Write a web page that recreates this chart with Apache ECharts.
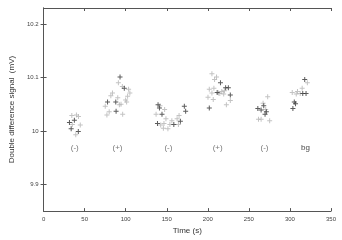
<!DOCTYPE html>
<html>
<head>
<meta charset="utf-8">
<script src="https://cdn.jsdelivr.net/npm/echarts@6/dist/echarts.min.js"></script>
<style>html,body{margin:0;padding:0;background:#fff}#c{width:342px;height:240px}</style>
</head>
<body>
<div id="c"></div>
<script>
// Dark markers
var darkTimes = [37.5, 31.5, 33.6, 42.3,
  93.1, 98.3, 87.9, 77.9, 88.3,
  139.4, 141.1, 171.4, 173.0, 144.2, 138.7, 166.6, 158.6,
  215.4, 221.7, 225.0, 211.4, 227.4, 201.8,
  268.1, 260.9, 264.9, 271.3, 269.7,
  318.0, 315.6, 319.6, 305.3, 306.8, 303.6];
var darkValues = [10.020, 10.016, 10.004, 9.999,
  10.101, 10.080, 10.054, 10.054, 10.037,
  10.049, 10.043, 10.046, 10.037, 10.031, 10.014, 10.018, 10.012,
  10.090, 10.081, 10.081, 10.072, 10.067, 10.043,
  10.047, 10.042, 10.039, 10.036, 10.031,
  10.096, 10.070, 10.070, 10.054, 10.051, 10.042];
// Light markers
var lightTimes = [34.4, 40.0, 35.0, 44.7, 39.2, 42.5,
  91.1, 95.9, 103.5, 105.1, 83.9, 81.9, 90.3, 102.3, 99.9, 75.1, 94.3, 101.1, 92.3, 79.9, 96.3, 77.1,
  141.8, 147.4, 137.0, 165.0, 162.6, 149.0, 156.2, 146.6, 153.8, 164.2, 145.9, 151.4, 142.6,
  205.0, 210.6, 208.2, 201.8, 207.4, 205.0, 214.6, 217.0, 220.2, 200.2, 206.6, 222.6, 227.4, 213.0, 219.3,
  272.9, 267.3, 270.5, 261.7, 264.9, 275.3,
  321.2, 314.9, 302.8, 309.2, 307.7, 312.5];
var lightValues = [10.029, 10.030, 10.012, 10.011, 9.993, 10.027,
  10.090, 10.083, 10.078, 10.071, 10.071, 10.066, 10.062, 10.065, 10.058, 10.046, 10.050, 10.054, 10.049, 10.036, 10.031, 10.030,
  10.047, 10.040, 10.031, 10.029, 10.023, 10.023, 10.019, 10.014, 10.012, 10.012, 10.005, 10.004, 10.011,
  10.107, 10.101, 10.096, 10.078, 10.080, 10.071, 10.070, 10.074, 10.075, 10.063, 10.059, 10.049, 10.057, 10.071, 10.069,
  10.064, 10.052, 10.040, 10.022, 10.022, 10.019,
  10.090, 10.080, 10.072, 10.074, 10.069, 10.070];
// Group annotations
var groupLabels = ['(-)', '(+)', '(-)', '(+)', '(-)', 'bg'];
var groupTimes = [38, 90, 152, 212, 269, 319];
var groupLevel = [9.968, 9.968, 9.968, 9.968, 9.968, 9.968];
// Axis ticks
var xTicks = [0, 50, 100, 150, 200, 250, 300, 350];
var yTicks = [9.9, 10, 10.1, 10.2];

function pairs(xs, ys) { return xs.map(function (x, i) { return [x, ys[i]]; }); }
var plus = 'path://M2,0h1v2h2v1h-2v2h-1v-2h-2v-1h2z';
var font = 'Liberation Sans, Arial, sans-serif';
var axisLineStyle = { color: '#555', width: 1 };

var chart = echarts.init(document.getElementById('c'), null, { renderer: 'canvas' });
chart.setOption({
  animation: false,
  backgroundColor: '#fff',
  grid: { left: 39, right: 11, top: 8, bottom: 22, containLabel: false },
  xAxis: [{
    type: 'value', min: 0, max: 350, interval: 50,
    name: 'Time (s)', nameLocation: 'middle', nameGap: 13,
    nameTextStyle: { fontFamily: font, fontSize: 8, color: '#333' },
    axisLine: { show: true, lineStyle: axisLineStyle },
    axisTick: { show: true, inside: true, length: 3, lineStyle: axisLineStyle, customValues: xTicks },
    axisLabel: { fontFamily: font, fontSize: 6, color: '#444', margin: 5, customValues: xTicks },
    splitLine: { show: false }
  }, {
    type: 'value', min: 0, max: 350, interval: 50, position: 'top',
    axisLine: { show: true, lineStyle: axisLineStyle },
    axisTick: { show: true, inside: true, length: 3, lineStyle: axisLineStyle, customValues: xTicks },
    axisLabel: { show: false },
    splitLine: { show: false }
  }],
  yAxis: [{
    type: 'value', min: 9.85, max: 10.23,
    name: 'Double difference signal  (mV)', nameLocation: 'middle', nameGap: 21,
    nameTextStyle: { fontFamily: font, fontSize: 8, color: '#333' },
    axisLine: { show: true, lineStyle: axisLineStyle },
    axisTick: { show: true, inside: true, length: 3, lineStyle: axisLineStyle, customValues: yTicks },
    axisLabel: { fontFamily: font, fontSize: 6, color: '#444', margin: 5, customValues: yTicks,
      formatter: function (v) { return String(Math.round(v * 10) / 10); } },
    splitLine: { show: false }
  }, {
    type: 'value', min: 9.85, max: 10.23, position: 'right',
    axisLine: { show: true, lineStyle: axisLineStyle },
    axisTick: { show: true, inside: true, length: 3, lineStyle: axisLineStyle, customValues: yTicks },
    axisLabel: { show: false },
    splitLine: { show: false }
  }],
  series: [{
    type: 'scatter', symbol: plus, symbolSize: 5,
    itemStyle: { color: '#b4b4b4' },
    data: pairs(lightTimes, lightValues)
  }, {
    type: 'scatter', symbol: plus, symbolSize: 5,
    itemStyle: { color: '#333' },
    data: pairs(darkTimes, darkValues)
  }, {
    type: 'scatter', symbol: 'circle', symbolSize: 1,
    itemStyle: { color: 'rgba(0,0,0,0)' },
    label: { show: true, position: 'inside', fontFamily: font, fontSize: 8, color: '#555',
      formatter: function (p) {
        var t = groupLabels[p.dataIndex];
        return t === 'bg' ? '{b|' + t + '}' : t;
      },
      rich: { b: { fontFamily: font, fontSize: 8, color: '#111' } } },
    data: pairs(groupTimes, groupLevel)
  }]
});
</script>
</body>
</html>
